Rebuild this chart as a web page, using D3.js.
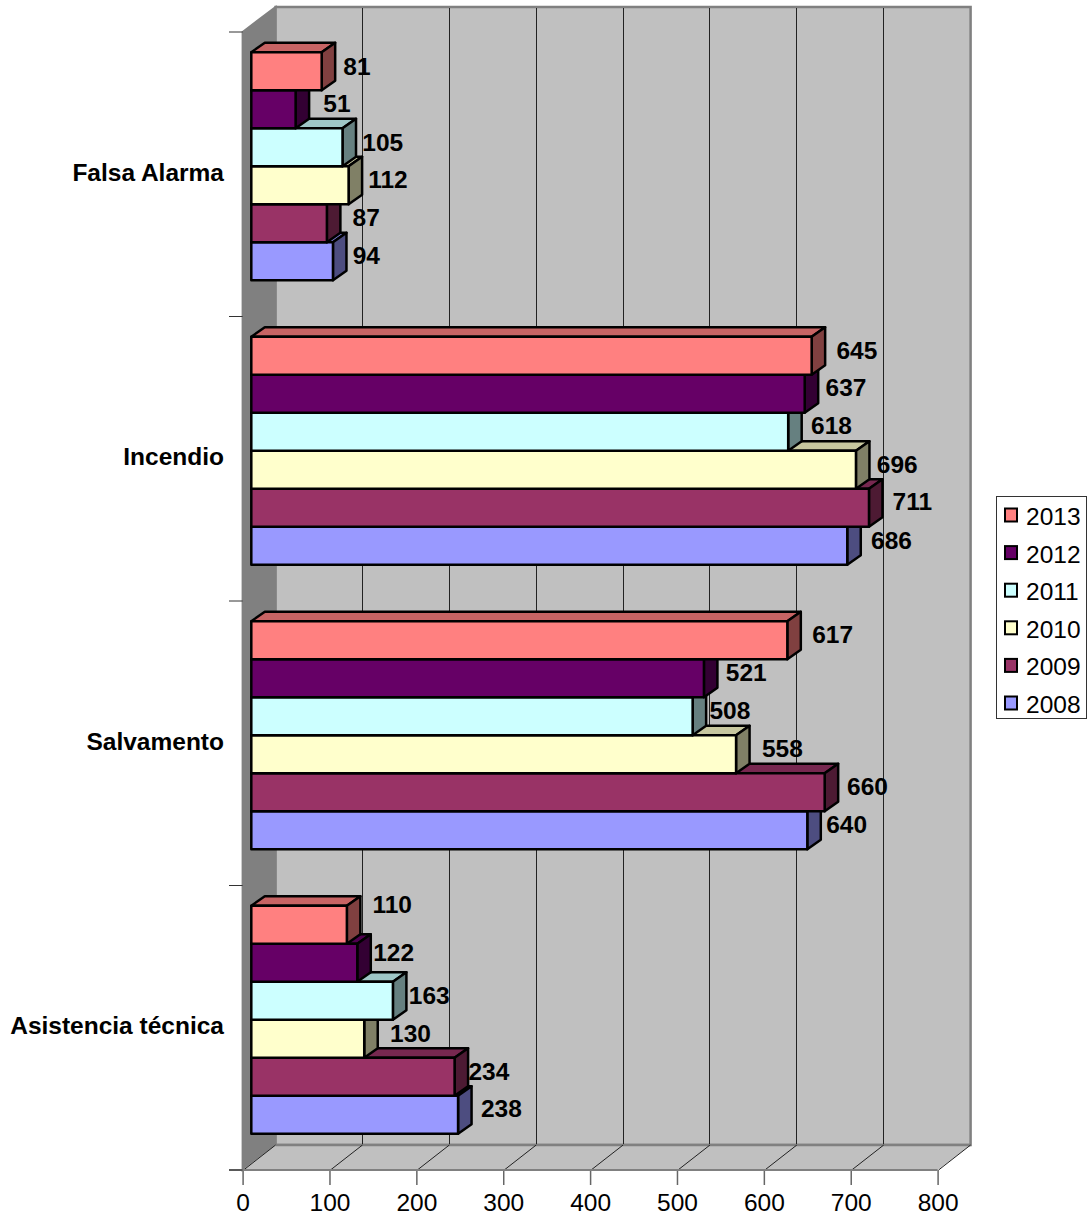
<!DOCTYPE html>
<html>
<head>
<meta charset="utf-8">
<script src="https://cdn.jsdelivr.net/npm/d3@7/dist/d3.min.js"></script>
<style>
html,body{margin:0;padding:0;background:#fff;}
svg{display:block;}
text{font-family:"Liberation Sans",Arial,sans-serif;fill:#000;}
</style>
</head>
<body>
<svg id="c" width="1089" height="1225"></svg>
<script>
// ---- data ----
const categories = ["Falsa Alarma", "Incendio", "Salvamento", "Asistencia técnica"];
const years = ["2013", "2012", "2011", "2010", "2009", "2008"];
const values2013 = [81, 645, 617, 110];
const values2012 = [51, 637, 521, 122];
const values2011 = [105, 618, 508, 163];
const values2010 = [112, 696, 558, 130];
const values2009 = [87, 711, 660, 234];
const values2008 = [94, 686, 640, 238];
const axisTicks = [0, 100, 200, 300, 400, 500, 600, 700, 800];
const seriesValues = [values2013, values2012, values2011, values2010, values2009, values2008];

// ---- styling and layout ----
const colours = ["#FF8080", "#660066", "#CCFFFF", "#FFFFCC", "#993366", "#9999FF"];
const wallGrey = "#C0C0C0", sideWall = "#808080", edgeGrey = "#808080";
const fs = 24.5;
const frontLeft = 242.6, frontRight = 937.6, frontTop = 32, frontBottom = 1170;
const depthX = 33, depthY = -25;          // floor / wall depth
const barShiftX = 8.7, barShiftY = -8;    // bars sit part-way into the depth
const barDepthX = 13.5, barDepthY = -9.5; // depth of each bar
// hand-dragged label offsets of the original chart (rows: category, columns: year)
const labelBaseX = 27.8, labelBaseY = -6;
const labelNudgeX = [[-6,0,-1,-2,-2,-8],[4,0,2,0,2,3],[4,1,-4,5,1.5,-2],[4,-5,-5,5,-7,2]];
const labelNudgeY = [[1,0,1,0,0,0],[1,0,0,1,0,1],[0,0,0,0,0,0],[-14,-4,1,1,1,0]];

const x = d3.scaleLinear().domain([0, 800]).range([frontLeft, frontRight]);
const yCat = d3.scaleBand().domain(categories).range([frontTop, frontBottom]);
const ySer = d3.scaleBand().domain(years).range([0, yCat.bandwidth()]).paddingInner(0).paddingOuter(0.743);

const svg = d3.select("#c");
const poly = pts => pts.map(p => p.join(",")).join(" ");

// ---- walls ----
const walls = svg.append("g");
walls.append("polygon").attr("points", poly([[frontLeft,frontTop],[frontLeft+depthX,frontTop+depthY],[frontLeft+depthX,frontBottom+depthY],[frontLeft,frontBottom]]))
  .attr("fill", sideWall).attr("stroke", edgeGrey).attr("stroke-width", 2);
walls.append("rect").attr("x", frontLeft+depthX).attr("y", frontTop+depthY)
  .attr("width", frontRight-frontLeft).attr("height", frontBottom-frontTop)
  .attr("fill", wallGrey).attr("stroke", edgeGrey).attr("stroke-width", 2.5);
walls.append("polygon").attr("points", poly([[frontLeft,frontBottom],[frontLeft+depthX,frontBottom+depthY],[frontRight+depthX,frontBottom+depthY],[frontRight,frontBottom]]))
  .attr("fill", wallGrey);
walls.append("line").attr("x1", frontLeft+depthX).attr("x2", frontRight+depthX)
  .attr("y1", frontBottom+depthY).attr("y2", frontBottom+depthY)
  .attr("stroke", edgeGrey).attr("stroke-width", 2.5);

// ---- gridlines (back wall and floor) ----
const grid = svg.append("g").attr("stroke", "#222").attr("stroke-width", 1).attr("fill", "none");
axisTicks.forEach(t => {
  if (t > 0 && t < 800) {
    const gx = Math.floor(x(t)+depthX)+0.5;
    grid.append("line").attr("x1", gx).attr("x2", gx)
      .attr("y1", frontTop+depthY+1).attr("y2", frontBottom+depthY-1);
  }
  grid.append("line").attr("x1", x(t)+1).attr("x2", x(t)+depthX)
    .attr("y1", frontBottom).attr("y2", frontBottom+depthY);
});

// ---- axes ----
const axisX = svg.append("g").attr("transform", `translate(0,${frontBottom})`)
  .call(d3.axisBottom(x).tickValues(axisTicks).tickFormat(d3.format("d")).tickSize(15).tickPadding(9).tickSizeOuter(0));
axisX.select(".domain").remove();
axisX.selectAll("line").attr("stroke", "#666").attr("stroke-width", 1.5);
axisX.selectAll("text").attr("font-size", fs).attr("font-family", '"Liberation Sans",Arial,sans-serif');
svg.append("line").attr("x1", 229).attr("x2", frontRight).attr("y1", frontBottom).attr("y2", frontBottom)
  .attr("stroke", edgeGrey).attr("stroke-width", 2);

const catBounds = categories.map(c => yCat(c)).concat([frontBottom]);
svg.append("g").selectAll("line").data(catBounds).join("line")
  .attr("x1", 229).attr("x2", frontLeft).attr("y1", d => d).attr("y2", d => d)
  .attr("stroke", "#333").attr("stroke-width", 1);

svg.append("g").selectAll("text").data(categories).join("text")
  .attr("x", 224).attr("y", c => yCat(c) + yCat.bandwidth()/2 - 2).attr("dy", "0.35em")
  .attr("text-anchor", "end").attr("font-weight", "bold").attr("font-size", fs).text(c => c);

// ---- bars: lowest bar of each group first, so upper bars overlap ----
const barsG = svg.append("g").attr("stroke", "#000").attr("stroke-width", 2.5).attr("stroke-linejoin", "round");
const labelsG = svg.append("g");
categories.forEach((cat, ci) => {
  for (let si = years.length - 1; si >= 0; si--) {
    const v = seriesValues[si][ci], col = d3.rgb(colours[si]);
    const x0 = x(0) + barShiftX, x1 = x(v) + barShiftX;
    const y0 = yCat(cat) + ySer(years[si]) + barShiftY, y1 = y0 + ySer.bandwidth();
    const g = barsG.append("g");
    g.append("polygon").attr("points", poly([[x0,y0],[x0+barDepthX,y0+barDepthY],[x1+barDepthX,y0+barDepthY],[x1,y0]]))
      .attr("fill", d3.rgb(col.r*0.78, col.g*0.78, col.b*0.78).formatHex());
    g.append("polygon").attr("points", poly([[x1,y0],[x1+barDepthX,y0+barDepthY],[x1+barDepthX,y1+barDepthY],[x1,y1]]))
      .attr("fill", d3.rgb(col.r*0.5, col.g*0.5, col.b*0.5).formatHex());
    g.append("rect").attr("x", x0).attr("y", y0).attr("width", x1-x0).attr("height", y1-y0)
      .attr("fill", colours[si]);
    labelsG.append("text")
      .attr("x", x1 + barDepthX + labelBaseX + labelNudgeX[ci][si])
      .attr("y", (y0+y1)/2 + labelBaseY + labelNudgeY[ci][si])
      .attr("dy", "0.35em").attr("text-anchor", "middle")
      .attr("font-weight", "bold").attr("font-size", fs).text(v);
  }
});

// ---- legend ----
const legendY = d3.scalePoint().domain(years).range([515, 703]);
const legend = svg.append("g");
legend.append("rect").attr("x", 996.5).attr("y", 496.5).attr("width", 90).attr("height", 222)
  .attr("fill", "#fff").attr("stroke", "#333").attr("stroke-width", 1);
years.forEach((yr, i) => {
  legend.append("rect").attr("x", 1005).attr("y", legendY(yr)-6.5).attr("width", 12).attr("height", 13)
    .attr("fill", colours[i]).attr("stroke", "#000").attr("stroke-width", 2);
  legend.append("text").attr("x", 1026).attr("y", legendY(yr)+1.5).attr("dy", "0.35em")
    .attr("font-size", fs).text(yr);
});
</script>
</body>
</html>
